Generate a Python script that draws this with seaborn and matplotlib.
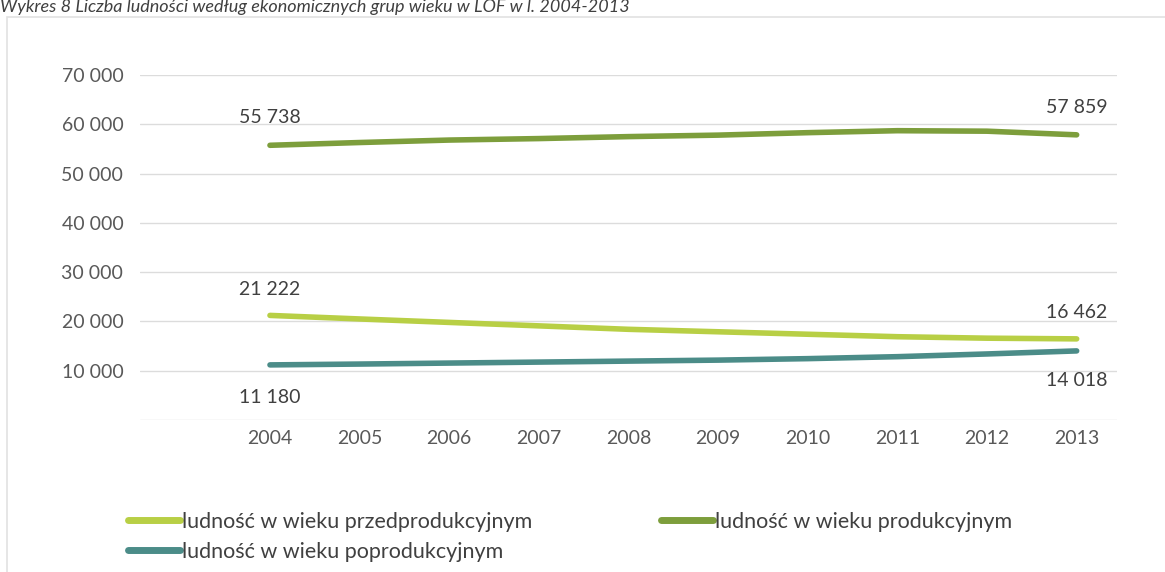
import pandas as pd
import matplotlib.pyplot as plt
import seaborn as sns
from matplotlib.patches import Rectangle

# Dane: liczba ludnosci wg ekonomicznych grup wieku (LOF, 2004-2013)
years = [2004, 2005, 2006, 2007, 2008, 2009, 2010, 2011, 2012, 2013]
przedprod = [21222, 20500, 19800, 19100, 18400, 17900, 17400, 16900, 16600, 16462]
produkcyjny = [55738, 56300, 56800, 57100, 57500, 57800, 58300, 58700, 58600, 57859]
poprod = [11180, 11350, 11550, 11750, 11950, 12150, 12450, 12850, 13400, 14018]

labels = ["ludność w wieku przedprodukcyjnym",
          "ludność w wieku poprodukcyjnym",
          "ludność w wieku produkcyjnym"]
colors = ["#b8cf45", "#4b8c88", "#7d9e3c"]
ytick_vals = [10000, 20000, 30000, 40000, 50000, 60000, 70000]

df = pd.concat([
    pd.DataFrame({"rok": years, "liczba": przedprod, "grupa": labels[0]}),
    pd.DataFrame({"rok": years, "liczba": poprod, "grupa": labels[1]}),
    pd.DataFrame({"rok": years, "liczba": produkcyjny, "grupa": labels[2]}),
])

sns.set_style("white")
plt.rcParams["font.family"] = ["Lato", "DejaVu Sans"]

fig = plt.figure(figsize=(11.65, 5.72), dpi=100)
ax = fig.add_axes([140 / 1165, 1 - 420 / 572, (1117 - 140) / 1165, (420 - 75) / 572])

sns.lineplot(data=df, x="rok", y="liczba", hue="grupa", hue_order=labels,
             palette=colors, linewidth=4, ax=ax, legend=True,
             solid_capstyle="round")

ax.set_xlim(2004 - 1.45, 2013 + 0.45)
ax.set_ylim(0, 70000)
ax.set_xticks(years)
ax.set_yticks(ytick_vals)
ax.set_yticklabels([f"{v:,}".replace(",", " ") for v in ytick_vals])
ax.set_xlabel("")
ax.set_ylabel("")
ax.tick_params(axis="both", length=0, labelsize=14, labelcolor="#595959")
ax.tick_params(axis="x", pad=7)
ax.tick_params(axis="y", pad=12)
for v in [0] + ytick_vals:
    ax.axhline(v, color="#dcdcdc", linewidth=1, zorder=0)
for s in ["top", "left", "right", "bottom"]:
    ax.spines[s].set_visible(False)

# etykiety danych (pierwszy i ostatni rok)
def fmt(v):
    return f"{v:,}".replace(",", " ")

lab = dict(textcoords="offset points", ha="center", fontsize=14, color="#404040")
ax.annotate(fmt(produkcyjny[0]), (years[0], produkcyjny[0]), xytext=(0, 16), **lab)
ax.annotate(fmt(produkcyjny[-1]), (years[-1], produkcyjny[-1]), xytext=(0, 16), **lab)
ax.annotate(fmt(przedprod[0]), (years[0], przedprod[0]), xytext=(0, 15), **lab)
ax.annotate(fmt(przedprod[-1]), (years[-1], przedprod[-1]), xytext=(0, 15), **lab)
ax.annotate(fmt(poprod[0]), (years[0], poprod[0]), xytext=(0, -17), va="top", **lab)
ax.annotate(fmt(poprod[-1]), (years[-1], poprod[-1]), xytext=(0, -15), va="top", **lab)

handles, lbls = ax.get_legend_handles_labels()
ax.get_legend().remove()
for h in handles:
    h.set_linewidth(5)
fig.legend(handles, lbls, ncol=2, loc="upper left",
           bbox_to_anchor=(128 / 1165, 1 - 512 / 572), frameon=False,
           fontsize=15.5, labelcolor="#404040", handlelength=2.4,
           handletextpad=0.1, columnspacing=6.0, borderpad=0,
           borderaxespad=0, labelspacing=0.45)

# tytul wykresu
fig.text(0.0, 1 - 12 / 572, "Wykres 8 Liczba ludności według ekonomicznych grup wieku w LOF w l. 2004-2013",
         fontsize=13, style="italic", color="#404040", ha="left", va="baseline")

# delikatna ramka obszaru wykresu
fig.patches.append(Rectangle((7 / 1165, -0.1), 1.2, 1 - 17 / 572 + 0.1,
                             transform=fig.transFigure, fill=False,
                             edgecolor="#e2e2e2", linewidth=1.2))

fig.savefig("out.png", dpi=100, facecolor="white")
